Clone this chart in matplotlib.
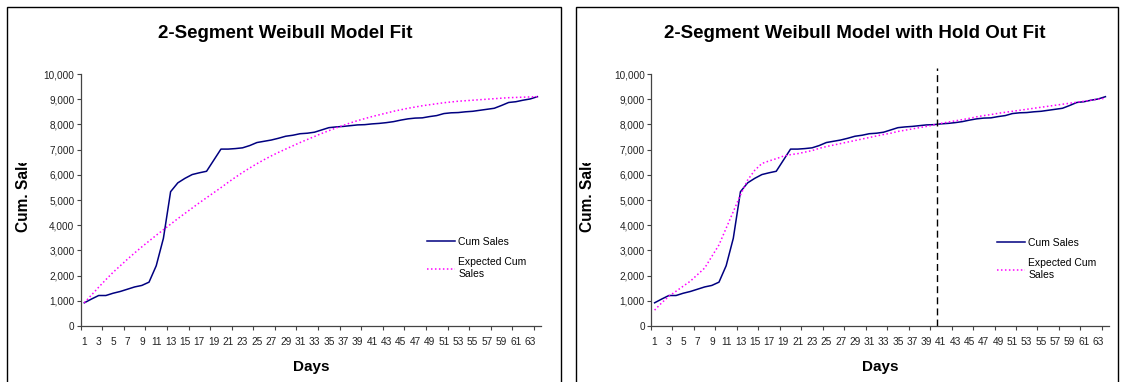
import numpy as np
import matplotlib
matplotlib.use("Agg")
import matplotlib.pyplot as plt
from matplotlib.patches import Rectangle
from matplotlib.transforms import Bbox
from matplotlib.ticker import FuncFormatter

plt.rcParams['font.family'] = ['Liberation Sans', 'DejaVu Sans']

days = list(range(1, 65))

cum_sales = [920, 1070, 1210, 1210, 1300, 1370, 1460, 1550, 1610, 1740,
             2390, 3480, 5330, 5680, 5860, 6010, 6080, 6140, 6580, 7020,
             7020, 7040, 7070, 7160, 7280, 7330, 7380, 7450, 7530, 7570,
             7630, 7650, 7690, 7780, 7870, 7900, 7920, 7950, 7980, 7990,
             8020, 8040, 8070, 8110, 8170, 8220, 8250, 8260, 8310, 8350,
             8430, 8460, 8470, 8500, 8520, 8560, 8600, 8640, 8750, 8870,
             8900, 8960, 9010, 9100]

expected_fit = [920, 1230, 1540, 1840, 2130, 2390, 2650, 2900, 3140, 3370,
                3600, 3820, 4040, 4260, 4470, 4680, 4890, 5090, 5290, 5490,
                5700, 5900, 6090, 6270, 6440, 6600, 6750, 6890, 7020, 7150,
                7280, 7400, 7520, 7640, 7750, 7860, 7960, 8060, 8150, 8230,
                8310, 8380, 8450, 8520, 8580, 8640, 8690, 8740, 8780, 8820,
                8860, 8890, 8920, 8940, 8960, 8980, 9000, 9020, 9040, 9060,
                9070, 9080, 9090, 9100]

expected_holdout = [630, 920, 1180, 1380, 1580, 1780, 2040, 2300, 2760, 3220,
                    3880, 4540, 5200, 5790, 6180, 6450, 6550, 6640, 6740, 6800,
                    6840, 6900, 6960, 7050, 7120, 7180, 7240, 7300, 7360, 7420,
                    7480, 7540, 7600, 7650, 7720, 7770, 7820, 7870, 7920, 7980,
                    8040, 8090, 8140, 8190, 8240, 8300, 8350, 8390, 8440, 8480,
                    8520, 8560, 8600, 8640, 8680, 8720, 8760, 8800, 8840, 8880,
                    8920, 8960, 9000, 9040]

holdout_day = 40.5

W, H = 1123, 382
fig = plt.figure(figsize=(W / 100, H / 100), dpi=100)

# panel frames
for x0, x1 in [(7, 561), (576, 1118)]:
    fig.patches.append(Rectangle((x0 / W, -0.05), (x1 - x0) / W, (H - 7) / H + 0.05,
                                 transform=fig.transFigure, fill=False,
                                 edgecolor='black', linewidth=1.0))


def style_axes(ax):
    ax.set_xlim(0.5, 64.5)
    ax.set_ylim(0, 10000)
    ax.set_yticks(range(0, 10001, 1000))
    ax.yaxis.set_major_formatter(FuncFormatter(lambda v, p: f"{int(v):,}"))
    ax.set_xticks(days[::2])
    ax.set_xticks(np.arange(0.5, 64.6, 3), minor=True)
    ax.tick_params(axis='x', which='major', length=0, pad=8, labelsize=7.3, colors='#222222')
    ax.tick_params(axis='x', which='minor', length=3, width=0.8, color='#444444')
    ax.tick_params(axis='y', length=3, width=0.8, pad=1.5, labelsize=7.2,
                   colors='#222222', color='#444444')
    for s in ['top', 'right']:
        ax.spines[s].set_visible(False)
    for s in ['left', 'bottom']:
        ax.spines[s].set_color('#444444')
        ax.spines[s].set_linewidth(0.9)


panels = [
    (80.7, 541, expected_fit, '2-Segment Weibull Model Fit', 285, 24, (427, 243)),
    (651, 1109, expected_holdout, '2-Segment Weibull Model with Hold Out Fit', 855, 588, (997, 244)),
]

for x0, x1, expected, title, tcx, ylx, leg in panels:
    ax = fig.add_axes([x0 / W, 1 - 326 / H, (x1 - x0) / W, (326 - 74) / H])
    ax.plot(days, cum_sales, color='#000080', linewidth=1.1, label='Cum Sales')
    ax.plot(days, expected, color='#ff00ff', linewidth=1.1, linestyle=(0, (1, 1.6)),
            label='Expected Cum\nSales')
    style_axes(ax)
    if expected is expected_holdout:
        ax.vlines(holdout_day, 0, 10230, colors='black', linestyles=(0, (5, 3)),
                  linewidth=1.0, clip_on=False)
    ax.set_xlabel('Days', fontsize=11, fontweight='bold', labelpad=9)
    fig.text(tcx / W, 1 - 33 / H, title, fontsize=13.5, fontweight='bold',
             ha='center', va='center')
    t = fig.text(ylx / W, 1 - 232 / H, 'Cum. Sales', fontsize=11.2, fontweight='bold',
                 rotation=90, ha='center', va='bottom')
    t.set_clip_box(Bbox([[0, 0], [W, H - 163]]))
    t.set_clip_on(True)
    ax.legend(loc='upper left', bbox_to_anchor=(leg[0] / W, 1 - (leg[1] - 6) / H),
              bbox_transform=fig.transFigure, frameon=False, fontsize=7.5,
              handlelength=2.7, handletextpad=0.3, labelspacing=1.0,
              borderpad=0, borderaxespad=0)

fig.savefig('out.png', dpi=100)
